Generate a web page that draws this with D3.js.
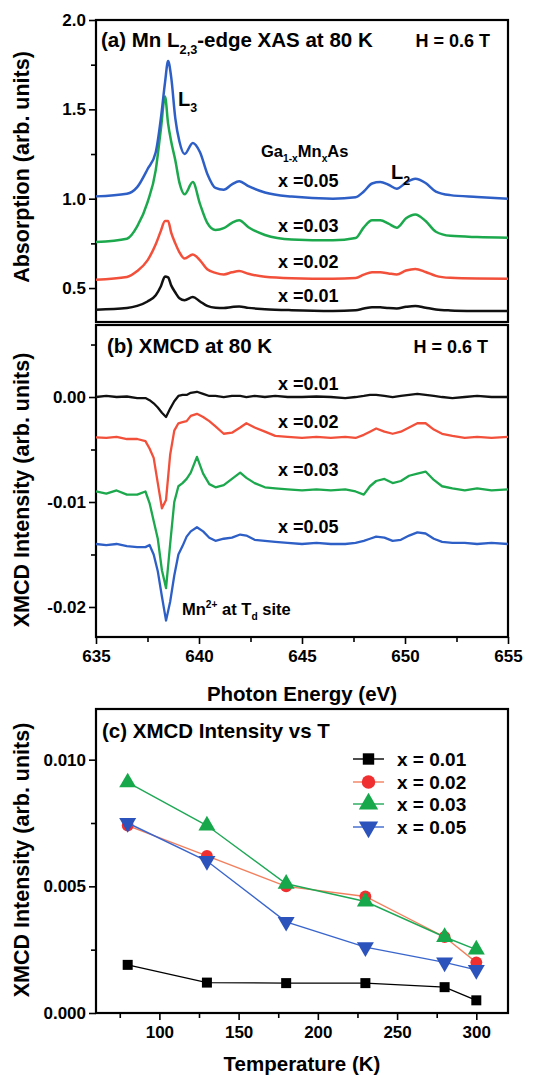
<!DOCTYPE html>
<html>
<head>
<meta charset="utf-8">
<script src="https://cdn.jsdelivr.net/npm/d3@7"></script>
<style>
  body { margin: 0; background: #fff; }
  svg text { font-family: Arial, "Liberation Sans", sans-serif; font-weight: bold; fill: #000; }
</style>
</head>
<body>
<svg id="chart" width="543" height="1078"></svg>
<script>
// ---- panel (a): XAS spectra (offset as in the figure) ----
const energyXAS = [635, 636.5, 637, 637.5, 637.9, 638.15, 638.35, 638.5, 638.65, 638.85, 639.05, 639.3,
  639.7, 640.05, 640.4, 640.8, 641.2, 641.6, 641.95, 642.4, 643.2, 644.5, 646.5, 647.6, 648.0, 648.4,
  648.8, 649.2, 649.6, 650.05, 650.5, 651.0, 651.5, 652.2, 653.5, 655];
const xas001 = [0.379, 0.388, 0.4, 0.425, 0.46, 0.51, 0.565, 0.56, 0.515, 0.475, 0.443, 0.432,
  0.45, 0.425, 0.4, 0.39, 0.389, 0.394, 0.397, 0.389, 0.382, 0.376, 0.372, 0.376, 0.385, 0.393,
  0.392, 0.388, 0.386, 0.395, 0.4, 0.39, 0.38, 0.375, 0.372, 0.371];
const xas002 = [0.547, 0.562, 0.595, 0.655, 0.745, 0.82, 0.875, 0.875, 0.81, 0.75, 0.7, 0.665,
  0.688, 0.655, 0.605, 0.585, 0.576, 0.588, 0.595, 0.58, 0.563, 0.555, 0.552, 0.556, 0.575, 0.588,
  0.588, 0.582, 0.576, 0.598, 0.607, 0.59, 0.568, 0.557, 0.553, 0.552];
const xas003 = [0.757, 0.776, 0.845, 0.98, 1.16, 1.39, 1.572, 1.42, 1.32, 1.215, 1.09, 1.025,
  1.093, 0.97, 0.865, 0.825, 0.835, 0.865, 0.879, 0.84, 0.797, 0.772, 0.767, 0.78, 0.84, 0.88,
  0.879, 0.86, 0.838, 0.89, 0.912, 0.875, 0.815, 0.792, 0.785, 0.782];
const xas005 = [1.013, 1.028, 1.065, 1.165, 1.26, 1.45, 1.65, 1.77, 1.68, 1.45, 1.32, 1.25,
  1.312, 1.26, 1.14, 1.06, 1.05, 1.08, 1.098, 1.07, 1.035, 1.012, 1.0, 1.008, 1.04, 1.085,
  1.093, 1.078, 1.056, 1.09, 1.112, 1.088, 1.04, 1.02, 1.01, 1.0];

// ---- panel (b): XMCD spectra ----
const energyXMCD = [635, 635.5, 636, 636.5, 637, 637.4, 637.6, 637.8, 638.0, 638.2, 638.4, 638.6,
  638.8, 639.0, 639.2, 639.4, 639.6, 639.9, 640.2, 640.5, 640.8, 641.2, 641.6, 642.0, 642.3, 642.7,
  643.2, 643.7, 644.3, 645, 645.7, 646.4, 647.1, 647.6, 648.0, 648.3, 648.6, 649.0, 649.4, 649.8,
  650.2, 650.6, 651.0, 651.4, 651.8, 652.3, 652.9, 653.5, 654.2, 655];
const xmcd001 = [0, 0.0001, 0, 0.00005, -0.0001, -0.0001, -0.0003, -0.0006, -0.001, -0.0015, -0.0019, -0.0011,
  -0.0004, 0.0001, 0.0002, 0.0002, 0.0004, 0.0005, 0.0003, 0.0001, 0.0001, 0, 0.0001, 0.0001, 0, 0.0001,
  0, 0.0001, 0, 0, 0.00005, 0, -0.0001, 0, 0.0001, 0.0002, 0.0002, 0.0001, 0, 0.0001,
  0.0002, 0.0003, 0.0002, 0.0001, 0, -0.0001, 0, 0.0001, 0, 0];
const xmcd002 = [-0.00384, -0.0039, -0.0038, -0.004, -0.004, -0.0042, -0.0049, -0.0058, -0.0082, -0.0106, -0.0098, -0.0055,
  -0.0032, -0.0025, -0.0024, -0.0023, -0.0018, -0.0016, -0.0019, -0.0023, -0.0028, -0.0035, -0.0034, -0.0029, -0.0025, -0.0029,
  -0.0033, -0.0037, -0.0038, -0.0039, -0.0038, -0.0039, -0.0038, -0.0039, -0.0036, -0.0033, -0.003, -0.0033, -0.0035, -0.0033,
  -0.0029, -0.0025, -0.0025, -0.0031, -0.0035, -0.0037, -0.0039, -0.0038, -0.0039, -0.0038];
const xmcd003 = [-0.009, -0.0092, -0.0089, -0.0093, -0.0093, -0.009, -0.0101, -0.0118, -0.0135, -0.0165, -0.0182, -0.014,
  -0.01, -0.0085, -0.0082, -0.0078, -0.0072, -0.0057, -0.0073, -0.0083, -0.0086, -0.0084, -0.0078, -0.0072, -0.0077, -0.0082,
  -0.0086, -0.0087, -0.0088, -0.0089, -0.0088, -0.0089, -0.0088, -0.009, -0.0093, -0.0085, -0.008, -0.0078, -0.0082, -0.008,
  -0.0075, -0.0073, -0.0071, -0.0079, -0.0085, -0.0087, -0.0089, -0.0087, -0.0089, -0.0088];
const xmcd005 = [-0.014, -0.0141, -0.014, -0.0142, -0.0143, -0.0143, -0.0141, -0.015, -0.0166, -0.019, -0.0213, -0.0195,
  -0.017, -0.015, -0.0142, -0.0133, -0.0128, -0.0124, -0.0128, -0.0134, -0.0137, -0.0135, -0.0134, -0.0131, -0.0132, -0.0136,
  -0.0137, -0.0138, -0.0139, -0.014, -0.0139, -0.014, -0.014, -0.0139, -0.0137, -0.0135, -0.0133, -0.0134, -0.0137, -0.0136,
  -0.0132, -0.0129, -0.013, -0.0135, -0.0138, -0.0139, -0.0139, -0.014, -0.0139, -0.014];

// ---- panel (c): XMCD intensity vs temperature ----
const temperatures = [80, 130, 180, 230, 280, 300];
const int001 = [0.0019, 0.0012, 0.00118, 0.00118, 0.00102, 0.0005];
const int002 = [0.0074, 0.0062, 0.005, 0.0046, 0.003, 0.002];
const int003 = [0.0091, 0.0074, 0.0051, 0.0044, 0.003, 0.0025];
const int005 = [0.0075, 0.006, 0.0036, 0.0026, 0.002, 0.0017];

const seriesNames = ["x =0.01", "x =0.02", "x =0.03", "x =0.05"];
const legendNames = ["x = 0.01", "x = 0.02", "x = 0.03", "x = 0.05"];
const lineColors = ["#111111", "#f2503a", "#1ca84c", "#2e5fc6"];
const markerColors = ["#000000", "#f03030", "#16a84a", "#2c52bc"];
const thinColors = ["#000000", "#f2805e", "#1fa856", "#3a66cc"];

const svg = d3.select("#chart");
const L = 96, R = 508;

const x = d3.scaleLinear().domain([635, 655]).range([L, R]);
const ya = d3.scaleLinear().domain([0.31, 2.0]).range([322, 20]);
const yb = d3.scaleLinear().domain([-0.02286, 0.00686]).range([637, 325]);
const xc = d3.scaleLinear().domain([60, 320]).range([L, R]);
const yc = d3.scaleLinear().domain([0, 0.012]).range([1013, 709]);

function frame(top, bottom) {
  svg.append("rect").attr("x", L).attr("y", top).attr("width", R - L).attr("height", bottom - top)
    .attr("fill", "none").attr("stroke", "#000").attr("stroke-width", 2.2);
}

function styleAxis(g, size) {
  g.select(".domain").remove();
  g.selectAll(".tick line").attr("stroke", "#000").attr("stroke-width", 1.6);
  g.selectAll("text").style("font-size", size + "px").attr("fill", "#000");
}

function leftAxis(scale, major, minor, fmt) {
  const g1 = svg.append("g").attr("transform", `translate(${L},0)`)
    .call(d3.axisLeft(scale).tickValues(major).tickSize(7).tickPadding(3).tickFormat(fmt));
  styleAxis(g1, 17);
  const g2 = svg.append("g").attr("transform", `translate(${L},0)`)
    .call(d3.axisLeft(scale).tickValues(minor).tickSize(5).tickFormat(""));
  styleAxis(g2, 17);
}

function bottomAxis(scale, yPos, major, minor) {
  const g1 = svg.append("g").attr("transform", `translate(0,${yPos})`)
    .call(d3.axisBottom(scale).tickValues(major).tickSize(7).tickPadding(6).tickFormat(d3.format("d")));
  styleAxis(g1, 17);
  const g2 = svg.append("g").attr("transform", `translate(0,${yPos})`)
    .call(d3.axisBottom(scale).tickValues(minor).tickSize(5).tickFormat(""));
  styleAxis(g2, 17);
}

// text with sub/superscripts: parts = [[text, "sub"|"sup"|null], ...]
function richText(px, py, size, parts, anchor) {
  const t = svg.append("text").attr("x", px).attr("y", py).style("font-size", size + "px")
    .attr("text-anchor", anchor || "start");
  let shift = 0;
  parts.forEach(([s, kind]) => {
    const want = kind === "sub" ? size * 0.32 : kind === "sup" ? -size * 0.4 : 0;
    const ts = t.append("tspan").text(s).attr("dy", want - shift);
    if (kind) ts.style("font-size", (size * 0.62) + "px");
    shift = want;
  });
  return t;
}

// ================= panel (a) =================
frame(20, 322);
leftAxis(ya, [0.5, 1.0, 1.5, 2.0], [0.75, 1.25, 1.75], d => d.toFixed(1));

const xasSeries = [xas001, xas002, xas003, xas005];
const lineA = d3.line().x((d, i) => x(energyXAS[i])).y(d => ya(d)).curve(d3.curveMonotoneX);
svg.append("g").selectAll("path").data(xasSeries).join("path")
  .attr("d", lineA).attr("fill", "none")
  .attr("stroke", (d, i) => lineColors[i]).attr("stroke-width", 2.5);

richText(101, 47, 20.5, [["(a) Mn L", null], ["2,3", "sub"], ["-edge XAS at 80 K", null]]);
richText(490, 47, 18, [["H = 0.6 T", null]], "end");
richText(178, 106, 20, [["L", null], ["3", "sub"]]);
richText(261, 157, 16.5, [["Ga", null], ["1-x", "sub"], ["Mn", null], ["x", "sub"], ["As", null]]);
richText(391, 179, 20, [["L", null], ["2", "sub"]]);
const labelYA = [302, 268, 232, 187];
seriesNames.forEach((s, i) => richText(278, labelYA[i], 18, [[s, null]]));

svg.append("text").attr("transform", "translate(29,167) rotate(-90)")
  .attr("text-anchor", "middle").style("font-size", "21.5px").text("Absorption (arb. units)");

// ================= panel (b) =================
frame(325, 637);
leftAxis(yb, [-0.02, -0.01, 0], [-0.015, -0.005, 0.005], d => d.toFixed(2));
bottomAxis(x, 637, [635, 640, 645, 650, 655], [637.5, 642.5, 647.5, 652.5]);

const xmcdSeries = [xmcd001, xmcd002, xmcd003, xmcd005];
const lineB = d3.line().x((d, i) => x(energyXMCD[i])).y(d => yb(d));
svg.append("g").selectAll("path").data(xmcdSeries).join("path")
  .attr("d", lineB).attr("fill", "none")
  .attr("stroke", (d, i) => lineColors[i]).attr("stroke-width", 2.3)
  .attr("stroke-linejoin", "round");

richText(107, 353, 20.5, [["(b) XMCD at 80 K", null]]);
richText(488, 353, 18, [["H = 0.6 T", null]], "end");
const labelYB = [390, 428, 476, 533];
seriesNames.forEach((s, i) => richText(278, labelYB[i], 18, [[s, null]]));
richText(182, 615, 16.5, [["Mn", null], ["2+", "sup"], [" at T", null], ["d", "sub"], [" site", null]]);

svg.append("text").attr("transform", "translate(29,490) rotate(-90)")
  .attr("text-anchor", "middle").style("font-size", "21.5px").text("XMCD Intensity (arb. units)");

svg.append("text").attr("x", 302).attr("y", 701).attr("text-anchor", "middle")
  .style("font-size", "20.5px").text("Photon Energy (eV)");

// ================= panel (c) =================
frame(709, 1013);
leftAxis(yc, [0, 0.005, 0.01], [0.0025, 0.0075], d => d.toFixed(3));
bottomAxis(xc, 1013, [100, 150, 200, 250, 300], [75, 125, 175, 225, 275]);

const intSeries = [int001, int002, int003, int005];
const symbols = [d3.symbolSquare, d3.symbolCircle, d3.symbolTriangle, d3.symbolTriangle];
const symSizes = [100, 110, 125, 125];
const symRot = [0, 0, 0, 180];
const lineC = d3.line().x((d, i) => xc(temperatures[i])).y(d => yc(d));

intSeries.forEach((vals, k) => {
  const g = svg.append("g");
  g.append("path").attr("d", lineC(vals)).attr("fill", "none")
    .attr("stroke", thinColors[k]).attr("stroke-width", 1.4);
  g.selectAll("path.m").data(vals).join("path").attr("class", "m")
    .attr("d", d3.symbol().type(symbols[k]).size(symSizes[k]))
    .attr("transform", (d, i) => `translate(${xc(temperatures[i])},${yc(d)}) rotate(${symRot[k]})`)
    .attr("fill", markerColors[k]);
});

// legend
const legendY = [759, 782, 804, 827];
legendNames.forEach((s, k) => {
  const g = svg.append("g").attr("transform", `translate(353,${legendY[k]})`);
  g.append("line").attr("x1", 0).attr("x2", 31).attr("stroke", thinColors[k]).attr("stroke-width", 1.4);
  g.append("path").attr("d", d3.symbol().type(symbols[k]).size(symSizes[k] * 1.3)())
    .attr("transform", `translate(15.5,0) rotate(${symRot[k]})`).attr("fill", markerColors[k]);
  g.append("text").attr("x", 44).attr("y", 7).style("font-size", "19px").text(s);
});

richText(102, 738, 20.5, [["(c) XMCD Intensity vs T", null]]);

svg.append("text").attr("transform", "translate(29,860) rotate(-90)")
  .attr("text-anchor", "middle").style("font-size", "21.5px").text("XMCD Intensity (arb. units)");

svg.append("text").attr("x", 302).attr("y", 1071).attr("text-anchor", "middle")
  .style("font-size", "20.5px").text("Temperature (K)");
</script>
</body>
</html>
